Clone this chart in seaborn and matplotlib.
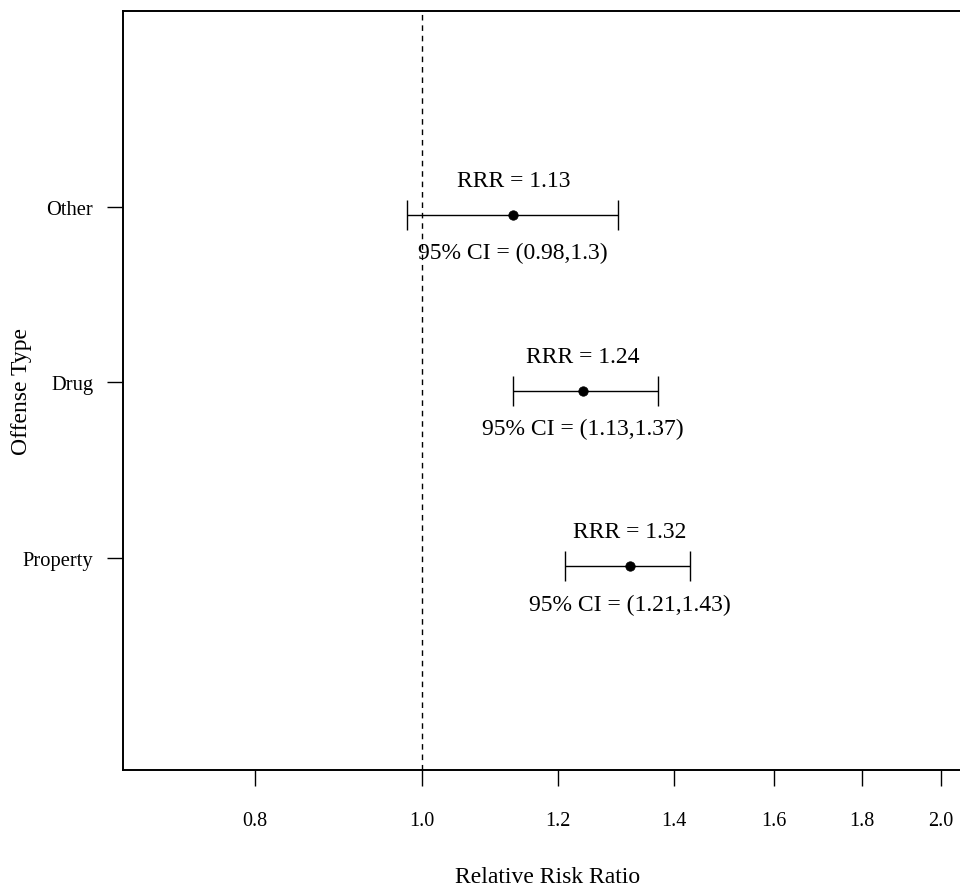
import matplotlib
matplotlib.use("Agg")
import matplotlib.pyplot as plt
import numpy as np
import seaborn as sns
from matplotlib.ticker import FixedLocator, NullLocator, FormatStrFormatter

# 数据
offense_types = ["Property", "Drug", "Other"]
offense_pos = [1, 2, 3]
rrr = [1.32, 1.24, 1.13]
ci_low = [1.21, 1.13, 0.98]
ci_high = [1.43, 1.37, 1.30]
x_ticks = [0.8, 1.0, 1.2, 1.4, 1.6, 1.8, 2.0]

sns.set_theme(style="white")
plt.rcParams["font.family"] = ["Liberation Serif", "DejaVu Serif"]
for k in ["text.color", "axes.labelcolor", "xtick.color", "ytick.color"]:
    plt.rcParams[k] = "black"

fig = plt.figure(figsize=(9.6, 8.87), dpi=100)
ax = fig.add_axes([123 / 960, (887 - 771) / 887, (972 - 123) / 960, (771 - 12) / 887])

y_pts = np.array(offense_pos, dtype=float)
err = [np.array(rrr) - np.array(ci_low), np.array(ci_high) - np.array(rrr)]
ax.errorbar(rrr, y_pts, xerr=err, fmt="none", ecolor="black",
            elinewidth=1.0, capsize=11, capthick=1.0)
sns.scatterplot(x=rrr, y=y_pts, ax=ax, color="black", s=46,
                edgecolor="black", zorder=3)

ax.axvline(1.0, color="black", linestyle=(0, (4, 3.5)), linewidth=1.0)

# 标注 RRR 和置信区间
for r, lo, hi, y in zip(rrr, ci_low, ci_high, y_pts):
    ax.text(r, y + 0.195, f"RRR = {r:g}", ha="center", va="center", fontsize=17)
    ax.text(r, y - 0.215, f"95% CI = ({lo:g},{hi:g})", ha="center", va="center", fontsize=17)

ax.set_xscale("log")
ax.set_xlim(0.671, 2.085)
ax.set_ylim(-0.16, 4.16)
ax.xaxis.set_major_locator(FixedLocator(x_ticks))
ax.xaxis.set_minor_locator(NullLocator())
ax.xaxis.set_major_formatter(FormatStrFormatter("%.1f"))
# 刻度比点略高一点（与原图一致）
ax.set_yticks(y_pts + 0.046)
ax.set_yticklabels(offense_types)

for s in ax.spines.values():
    s.set_color("black")
    s.set_linewidth(1.4)
ax.tick_params(axis="x", direction="out", length=11.5, width=1.0, color="black",
               pad=18, labelsize=14.5, bottom=True)
ax.tick_params(axis="y", direction="out", length=11.5, width=1.0, color="black",
               pad=10, labelsize=14.8, left=True)

ax.set_xlabel("Relative Risk Ratio", fontsize=17, labelpad=26)
ax.set_ylabel("Offense Type", fontsize=17)
ax.yaxis.set_label_coords(-0.119, 0.5)
ax.yaxis.label.set_verticalalignment("center")

fig.savefig("out.png", dpi=100)
